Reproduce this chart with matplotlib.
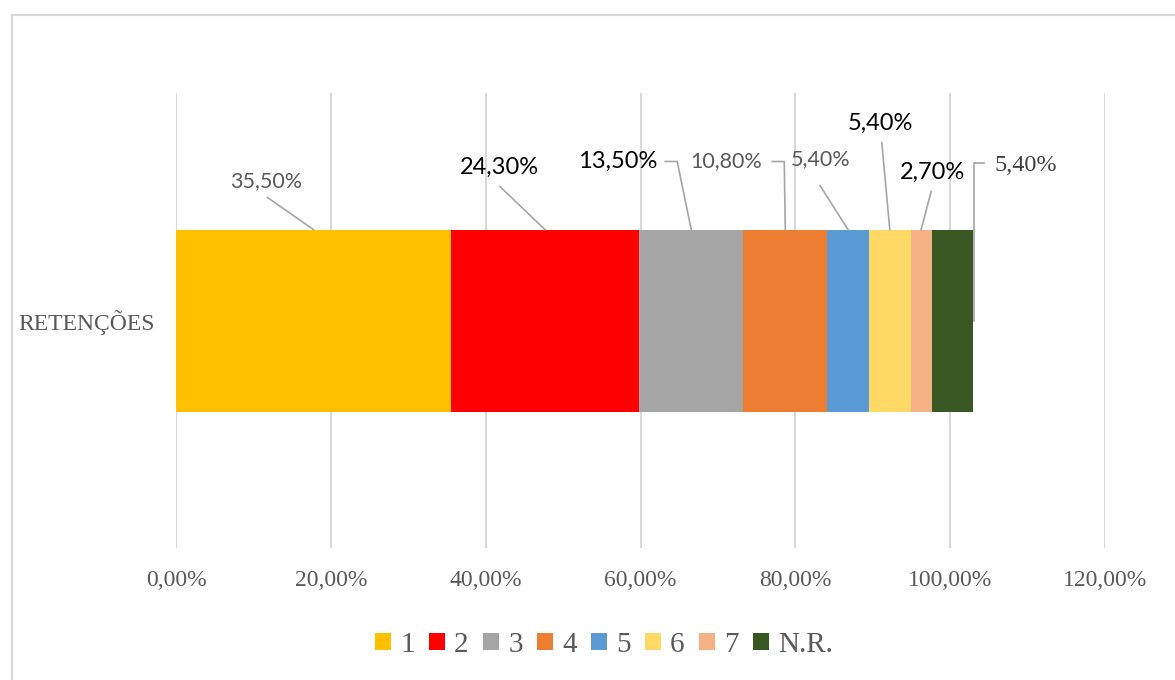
import matplotlib
matplotlib.use("Agg")
import matplotlib.pyplot as plt
from matplotlib.lines import Line2D
from matplotlib.patches import Patch
from matplotlib.transforms import IdentityTransform

# ---- data ----
category = "RETENÇÕES"
series_names = ["1", "2", "3", "4", "5", "6", "7", "N.R."]
values = [35.5, 24.3, 13.5, 10.8, 5.4, 5.4, 2.7, 5.4]
value_labels = ["35,50%", "24,30%", "13,50%", "10,80%", "5,40%", "5,40%", "2,70%", "5,40%"]
tick_values = [0, 20, 40, 60, 80, 100, 120]
tick_labels = ["0,00%", "20,00%", "40,00%", "60,00%", "80,00%", "100,00%", "120,00%"]

# ---- styles ----
colors = ["#FFC000", "#FF0000", "#A5A5A5", "#ED7D31", "#5B9BD5", "#FFD966", "#F4B183", "#385723"]
TXT = "#595959"
GRID = "#D9D9D9"
LEAD = "#A6A6A6"
# label style per series: (font family, size, color)
lab_style = [("Lato", 15.5, TXT), ("Lato", 17, "black"), ("Lato", 17, "black"),
             ("Lato", 15.5, TXT), ("Lato", 15.5, TXT), ("Lato", 17, "black"),
             ("Lato", 17, "black"), ("Liberation Serif", 17.5, "#404040")]
# text-centre offsets (pixels, y up) from anchor and leader-line vertices
lab_offsets = [(-47, 48), (-45, 62), (-74, 68), (-59, 68), (-27, 70), (-9, 106), (11, 57), (52, 155)]
leader_paths = [[(-46, 32), (0, 0)],
                [(-45, 43), (0, 0)],
                [(-26, 68), (-14, 68), (0, 0)],
                [(-13, 68), (-1, 68), (0, 0)],
                [(-28, 44), (0, 0)],
                [(-8, 87), (0, 0)],
                [(10, 38), (0, 0)],
                [(11, 158), (1, 158), (1, 0)]]

W, H = 1175, 680
fig = plt.figure(figsize=(W / 100, H / 100), dpi=100)
ax = fig.add_axes([176 / W, 1 - 548 / H, (1105 - 176) / W, (548 - 93) / H])

bar_h = 0.4
left = 0
anchors = []
for i, v in enumerate(values):
    ax.barh([0], [v], left=left, height=bar_h, color=colors[i], label=series_names[i], zorder=3)
    if i < len(values) - 1:
        anchors.append((left + v / 2, bar_h / 2))
    else:
        anchors.append((left + v, 0))
    left += v

ax.set_xlim(0, 120)
ax.set_ylim(-0.5, 0.5)
ax.set_xticks(tick_values)
ax.set_xticklabels(tick_labels, fontfamily="Liberation Serif", fontsize=17, color=TXT)
ax.set_yticks([0])
ax.set_yticklabels([category], fontfamily="Liberation Serif", fontsize=17, color=TXT)
ax.tick_params(axis="both", length=0)
ax.tick_params(axis="x", pad=16)
ax.tick_params(axis="y", pad=15)
ax.grid(axis="x", color=GRID, linewidth=1.5, zorder=0)
for s in ax.spines.values():
    s.set_visible(False)

# labels and leader lines
for i, (ax_x, ax_y) in enumerate(anchors):
    px, py = ax.transData.transform((ax_x, ax_y))
    fam, fs, col = lab_style[i]
    dx, dy = lab_offsets[i]
    fig.text((px + dx) / W, (py + dy) / H, value_labels[i], ha="center", va="center",
             fontfamily=fam, fontsize=fs, color=col)
    xs = [px + p[0] for p in leader_paths[i]]
    ys = [py + p[1] for p in leader_paths[i]]
    fig.add_artist(Line2D(xs, ys, transform=IdentityTransform(), color=LEAD, linewidth=1.2, zorder=5))

# legend
handles = [Patch(facecolor=c, edgecolor="none") for c in colors]
fig.legend(handles, series_names, loc="center", bbox_to_anchor=(604 / W, 1 - 645 / H), ncol=8,
           frameon=False, handlelength=0.55, handleheight=0.55, handletextpad=0.3,
           columnspacing=0.5, prop={"family": "Liberation Serif", "size": 21}, labelcolor=TXT)

# chart border
fig.add_artist(Line2D([12 / W, 12 / W], [0, 1 - 15 / H], transform=fig.transFigure, color=GRID, linewidth=1.5))
fig.add_artist(Line2D([12 / W, 1], [1 - 15 / H, 1 - 15 / H], transform=fig.transFigure, color=GRID, linewidth=1.5))

fig.savefig("out.png", dpi=100, facecolor="white")
